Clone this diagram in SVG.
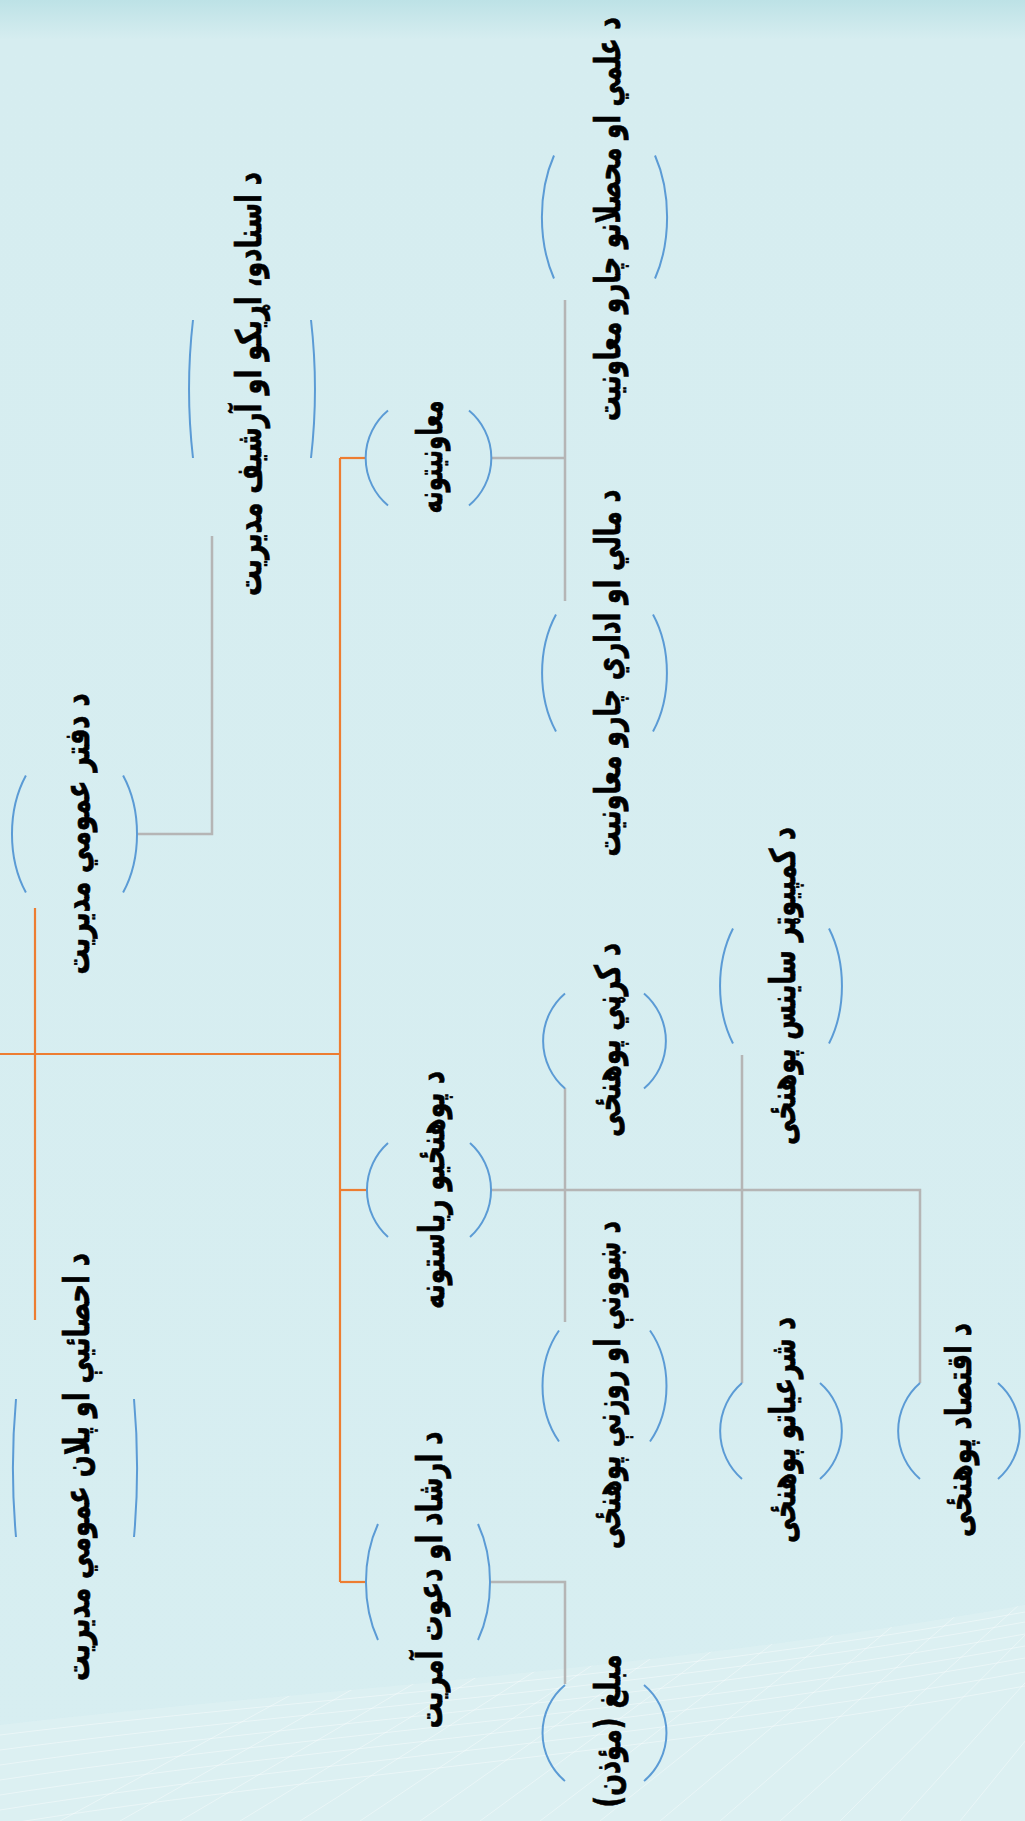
<svg xmlns="http://www.w3.org/2000/svg" width="1025" height="1821" viewBox="0 0 1025 1821">
<defs>
<linearGradient id="bg" x1="0" y1="0" x2="0" y2="1">
<stop offset="0" stop-color="#bde2e6"/>
<stop offset="0.022" stop-color="#d6edf0"/>
<stop offset="1" stop-color="#d7eef1"/>
</linearGradient>
<clipPath id="waveClip">
<path d="M0,1725 C300,1690 650,1672 1025,1605 L1025,1821 L0,1821 Z"/>
</clipPath>
<style>
.arc{fill:none;stroke:#5b9bd5;stroke-width:2}
.or{fill:none;stroke:#ed7d31;stroke-width:2.2}
.gr{fill:none;stroke:#b5b5b5;stroke-width:2.5}
.lbl{font-family:"DejaVu Sans",sans-serif;font-weight:bold;font-size:35px;fill:#000;stroke:#000;stroke-width:0.7;text-anchor:middle;dominant-baseline:central}
.wl{fill:none;stroke:#ffffff;stroke-width:1;opacity:0.4}
</style>
</defs>
<rect width="1025" height="1821" fill="url(#bg)"/>
<g id="background-wave">
<path d="M0,1725 C300,1690 650,1672 1025,1605 L1025,1821 L0,1821 Z" fill="#e0f1f3" opacity="0.6"/>
<g clip-path="url(#waveClip)">
<path class="wl" d="M0,1735 C300,1698 650,1680 1025,1612"/>
<path class="wl" d="M0,1750 C300,1710 650,1690 1025,1622"/>
<path class="wl" d="M0,1765 C300,1722 650,1702 1025,1634"/>
<path class="wl" d="M0,1780 C300,1735 650,1714 1025,1646"/>
<path class="wl" d="M0,1795 C300,1748 650,1726 1025,1658"/>
<path class="wl" d="M0,1810 C300,1762 650,1740 1025,1672"/>
<path class="wl" d="M0,1825 C300,1776 650,1754 1025,1686"/>
<path class="wl" d="M60,1821 L300,1690"/>
<path class="wl" d="M120,1821 L360,1685"/>
<path class="wl" d="M180,1821 L420,1680"/>
<path class="wl" d="M240,1821 L480,1675"/>
<path class="wl" d="M300,1821 L540,1668"/>
<path class="wl" d="M360,1821 L600,1660"/>
<path class="wl" d="M420,1821 L660,1652"/>
<path class="wl" d="M480,1821 L720,1645"/>
<path class="wl" d="M540,1821 L780,1638"/>
<path class="wl" d="M600,1821 L840,1630"/>
<path class="wl" d="M660,1821 L900,1620"/>
<path class="wl" d="M720,1821 L960,1612"/>
<path class="wl" d="M780,1821 L1020,1604"/>
<path class="wl" d="M840,1821 L1060,1600"/>
<path class="wl" d="M900,1821 L1100,1600"/>
<path class="wl" d="M960,1821 L1140,1600"/>
</g>
</g>
<g id="connectors">
<path class="or" d="M0,1054 H340"/>
<path class="or" d="M35,908 V1320"/>
<path class="or" d="M340,458 V1582"/>
<path class="or" d="M340,458 H366"/>
<path class="or" d="M340,1190 H366"/>
<path class="or" d="M340,1582 H366"/>
<path class="gr" d="M138,834 H212 V536"/>
<path class="gr" d="M491,458 H565"/>
<path class="gr" d="M565,300 V601"/>
<path class="gr" d="M491,1190 H920 V1383"/>
<path class="gr" d="M565,1088 V1322"/>
<path class="gr" d="M742,1055 V1383"/>
<path class="gr" d="M491,1582 H565 V1684"/>
</g>
<g id="node-daftar">
<path class="arc" d="M25.9,775.5 A62.5,93 0 0 0 25.9,892.5 M123.1,775.5 A62.5,93 0 0 1 123.1,892.5"/>
<text class="lbl" direction="rtl" transform="translate(77,834) rotate(-90)" textLength="281" lengthAdjust="spacingAndGlyphs">د دفتر عمومي مدیریت</text>
</g>
<g id="node-ehsaiya">
<path class="arc" d="M16,1399 A62,224 0 0 0 16,1537 M134,1399 A62,224 0 0 1 134,1537"/>
<text class="lbl" direction="rtl" transform="translate(77,1467) rotate(-90)" textLength="428" lengthAdjust="spacingAndGlyphs">د احصائیې او پلان عمومي مدیریت</text>
</g>
<g id="node-asnad">
<path class="arc" d="M193,320 A62,199 0 0 0 193,458 M311,320 A62,199 0 0 1 311,458"/>
<text class="lbl" direction="rtl" transform="translate(249,384) rotate(-90)" textLength="424" lengthAdjust="spacingAndGlyphs">د اسنادو، اړیکو او آرشیف مدیریت</text>
</g>
<g id="node-moawenyatuna">
<path class="arc" d="M388,410.5 A62.5,62 0 0 0 388,505.5 M469,410.5 A62.5,62 0 0 1 469,505.5"/>
<text class="lbl" direction="rtl" transform="translate(430,457) rotate(-90)" textLength="113" lengthAdjust="spacingAndGlyphs">معاونیتونه</text>
</g>
<g id="node-elmi">
<path class="arc" d="M554,155.5 A62.5,104 0 0 0 554,278.5 M655,155.5 A62.5,104 0 0 1 655,278.5"/>
<text class="lbl" direction="rtl" transform="translate(608,219) rotate(-90)" textLength="404" lengthAdjust="spacingAndGlyphs">د علمي او محصلانو چارو معاونیت</text>
</g>
<g id="node-mali">
<path class="arc" d="M556,614.5 A62.5,93 0 0 0 556,731.5 M653,614.5 A62.5,93 0 0 1 653,731.5"/>
<text class="lbl" direction="rtl" transform="translate(608,673) rotate(-90)" textLength="367" lengthAdjust="spacingAndGlyphs">د مالي او اداري چارو معاونیت</text>
</g>
<g id="node-pohanzi">
<path class="arc" d="M388,1143 A63,63 0 0 0 388,1237 M470,1143 A63,63 0 0 1 470,1237"/>
<text class="lbl" direction="rtl" transform="translate(432,1190) rotate(-90)" textLength="238" lengthAdjust="spacingAndGlyphs">د پوهنځیو ریاستونه</text>
</g>
<g id="node-ershad">
<path class="arc" d="M378,1524 A62,98 0 0 0 378,1640 M478,1524 A62,98 0 0 1 478,1640"/>
<text class="lbl" direction="rtl" transform="translate(430,1580) rotate(-90)" textLength="297" lengthAdjust="spacingAndGlyphs">د ارشاد او دعوت آمریت</text>
</g>
<g id="node-karhni">
<path class="arc" d="M565,993.5 A62.5,62.5 0 0 0 565,1088.5 M644,993.5 A62.5,62.5 0 0 1 644,1088.5"/>
<text class="lbl" direction="rtl" transform="translate(608,1040) rotate(-90)" textLength="194" lengthAdjust="spacingAndGlyphs">د کرڼي پوهنځی</text>
</g>
<g id="node-shwone">
<path class="arc" d="M559,1330.5 A62.5,82 0 0 0 559,1441.5 M650,1330.5 A62.5,82 0 0 1 650,1441.5"/>
<text class="lbl" direction="rtl" transform="translate(608,1385) rotate(-90)" textLength="328" lengthAdjust="spacingAndGlyphs">د ښوونې او روزنې پوهنځی</text>
</g>
<g id="node-computer">
<path class="arc" d="M733,928.5 A62,94 0 0 0 733,1043.5 M829,928.5 A62,94 0 0 1 829,1043.5"/>
<text class="lbl" direction="rtl" transform="translate(783,986) rotate(-90)" textLength="318" lengthAdjust="spacingAndGlyphs">د کمپیوټر ساینس پوهنځی</text>
</g>
<g id="node-sharyat">
<path class="arc" d="M742,1383 A62,63 0 0 0 742,1479 M820,1383 A62,63 0 0 1 820,1479"/>
<text class="lbl" direction="rtl" transform="translate(783,1430) rotate(-90)" textLength="226" lengthAdjust="spacingAndGlyphs">د شرعیاتو پوهنځی</text>
</g>
<g id="node-eqtesad">
<path class="arc" d="M920,1383 A62,63 0 0 0 920,1479 M998,1383 A62,63 0 0 1 998,1479"/>
<text class="lbl" direction="rtl" transform="translate(959,1430) rotate(-90)" textLength="214" lengthAdjust="spacingAndGlyphs">د اقتصاد پوهنځی</text>
</g>
<g id="node-moballegh">
<path class="arc" d="M565,1685 A62.5,62.5 0 0 0 565,1781 M644,1685 A62.5,62.5 0 0 1 644,1781"/>
<text class="lbl" direction="rtl" transform="translate(608,1731) rotate(-90)" textLength="153" lengthAdjust="spacingAndGlyphs">مبلغ (مؤذن)</text>
</g>
</svg>
